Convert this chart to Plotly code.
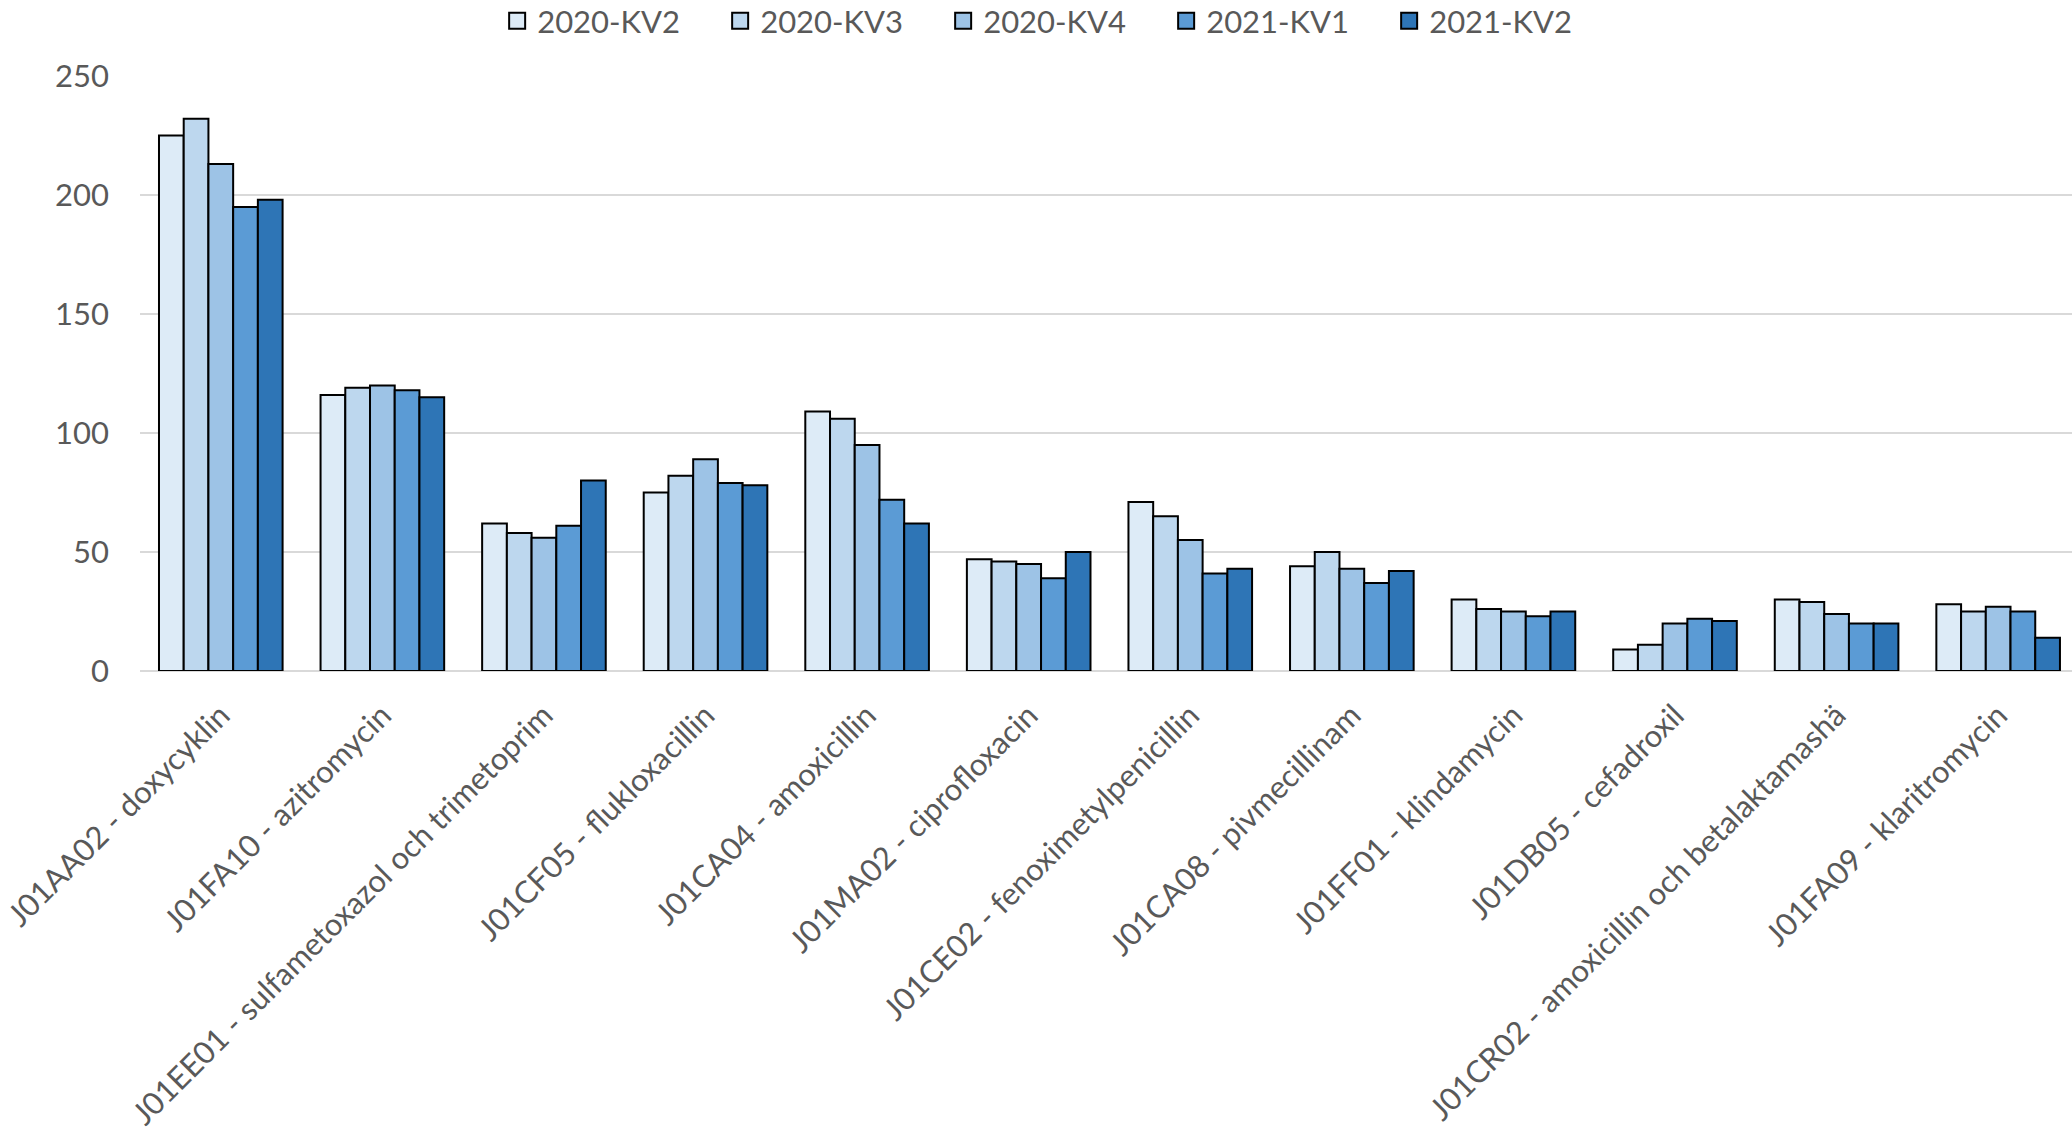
import plotly.graph_objects as go

categories = [
    "J01AA02 - doxycyklin",
    "J01FA10 - azitromycin",
    "J01EE01 - sulfametoxazol och trimetoprim",
    "J01CF05 - flukloxacillin",
    "J01CA04 - amoxicillin",
    "J01MA02 - ciprofloxacin",
    "J01CE02 - fenoximetylpenicillin",
    "J01CA08 - pivmecillinam",
    "J01FF01 - klindamycin",
    "J01DB05 - cefadroxil",
    "J01CR02 - amoxicillin och betalaktamashä",
    "J01FA09 - klaritromycin",
]

series_names = ["2020-KV2", "2020-KV3", "2020-KV4", "2021-KV1", "2021-KV2"]

kv2_2020 = [225, 116, 62, 75, 109, 47, 71, 44, 30, 9, 30, 28]
kv3_2020 = [232, 119, 58, 82, 106, 46, 65, 50, 26, 11, 29, 25]
kv4_2020 = [213, 120, 56, 89, 95, 45, 55, 43, 25, 20, 24, 27]
kv1_2021 = [195, 118, 61, 79, 72, 39, 41, 37, 23, 22, 20, 25]
kv2_2021 = [198, 115, 80, 78, 62, 50, 43, 42, 25, 21, 20, 14]

series_values = [kv2_2020, kv3_2020, kv4_2020, kv1_2021, kv2_2021]
colors = ["#ddebf7", "#bdd7ee", "#9dc3e6", "#5b9bd5", "#2e75b6"]

y_ticks = [0, 50, 100, 150, 200, 250]

FONT = "Lato"
TXT = "#595959"
FS = 31

fig = go.Figure()
for name, vals, col in zip(series_names, series_values, colors):
    fig.add_trace(go.Bar(
        x=categories, y=vals, name=name,
        marker=dict(color=col, line=dict(color="black", width=2)),
        showlegend=False,
    ))
# legend entries with larger square swatches
for name, col in zip(series_names, colors):
    fig.add_trace(go.Scatter(
        x=[None], y=[None], name=name, mode="markers",
        marker=dict(symbol="square", size=18, color=col,
                    line=dict(color="black", width=2)),
    ))

fig.update_layout(
    width=2072, height=1131,
    paper_bgcolor="white", plot_bgcolor="white",
    font=dict(family=FONT, size=FS, color=TXT),
    margin=dict(l=140, r=0, t=76, b=460, autoexpand=False),
    barmode="group", bargap=0.235, bargroupgap=0,
    legend=dict(
        orientation="h", xref="container", yref="container",
        x=0.509, xanchor="center", y=1 - 21 / 1131, yanchor="middle",
        font=dict(family=FONT, size=FS, color=TXT),
        itemsizing="trace", entrywidth=178, tracegroupgap=0,
    ),
    xaxis=dict(
        type="category", range=[-0.5, 11.457],
        tickangle=-45, showgrid=False, ticks="",
        showline=False, zeroline=False, automargin=False,
        ticklabelstandoff=19,
        tickfont=dict(family=FONT, size=FS, color=TXT),
    ),
    yaxis=dict(
        range=[0, 250], tickvals=y_ticks,
        showgrid=True, gridcolor="#d9d9d9", gridwidth=2,
        zeroline=True, zerolinecolor="#d9d9d9", zerolinewidth=2,
        showline=False, ticks="", ticklabelstandoff=30, automargin=False,
        tickfont=dict(family=FONT, size=FS, color=TXT),
    ),
)

fig.write_html(
    "out.html",
    config={"displayModeBar": False},
    post_script="document.body.style.margin='0';document.body.style.overflow='hidden';",
)
